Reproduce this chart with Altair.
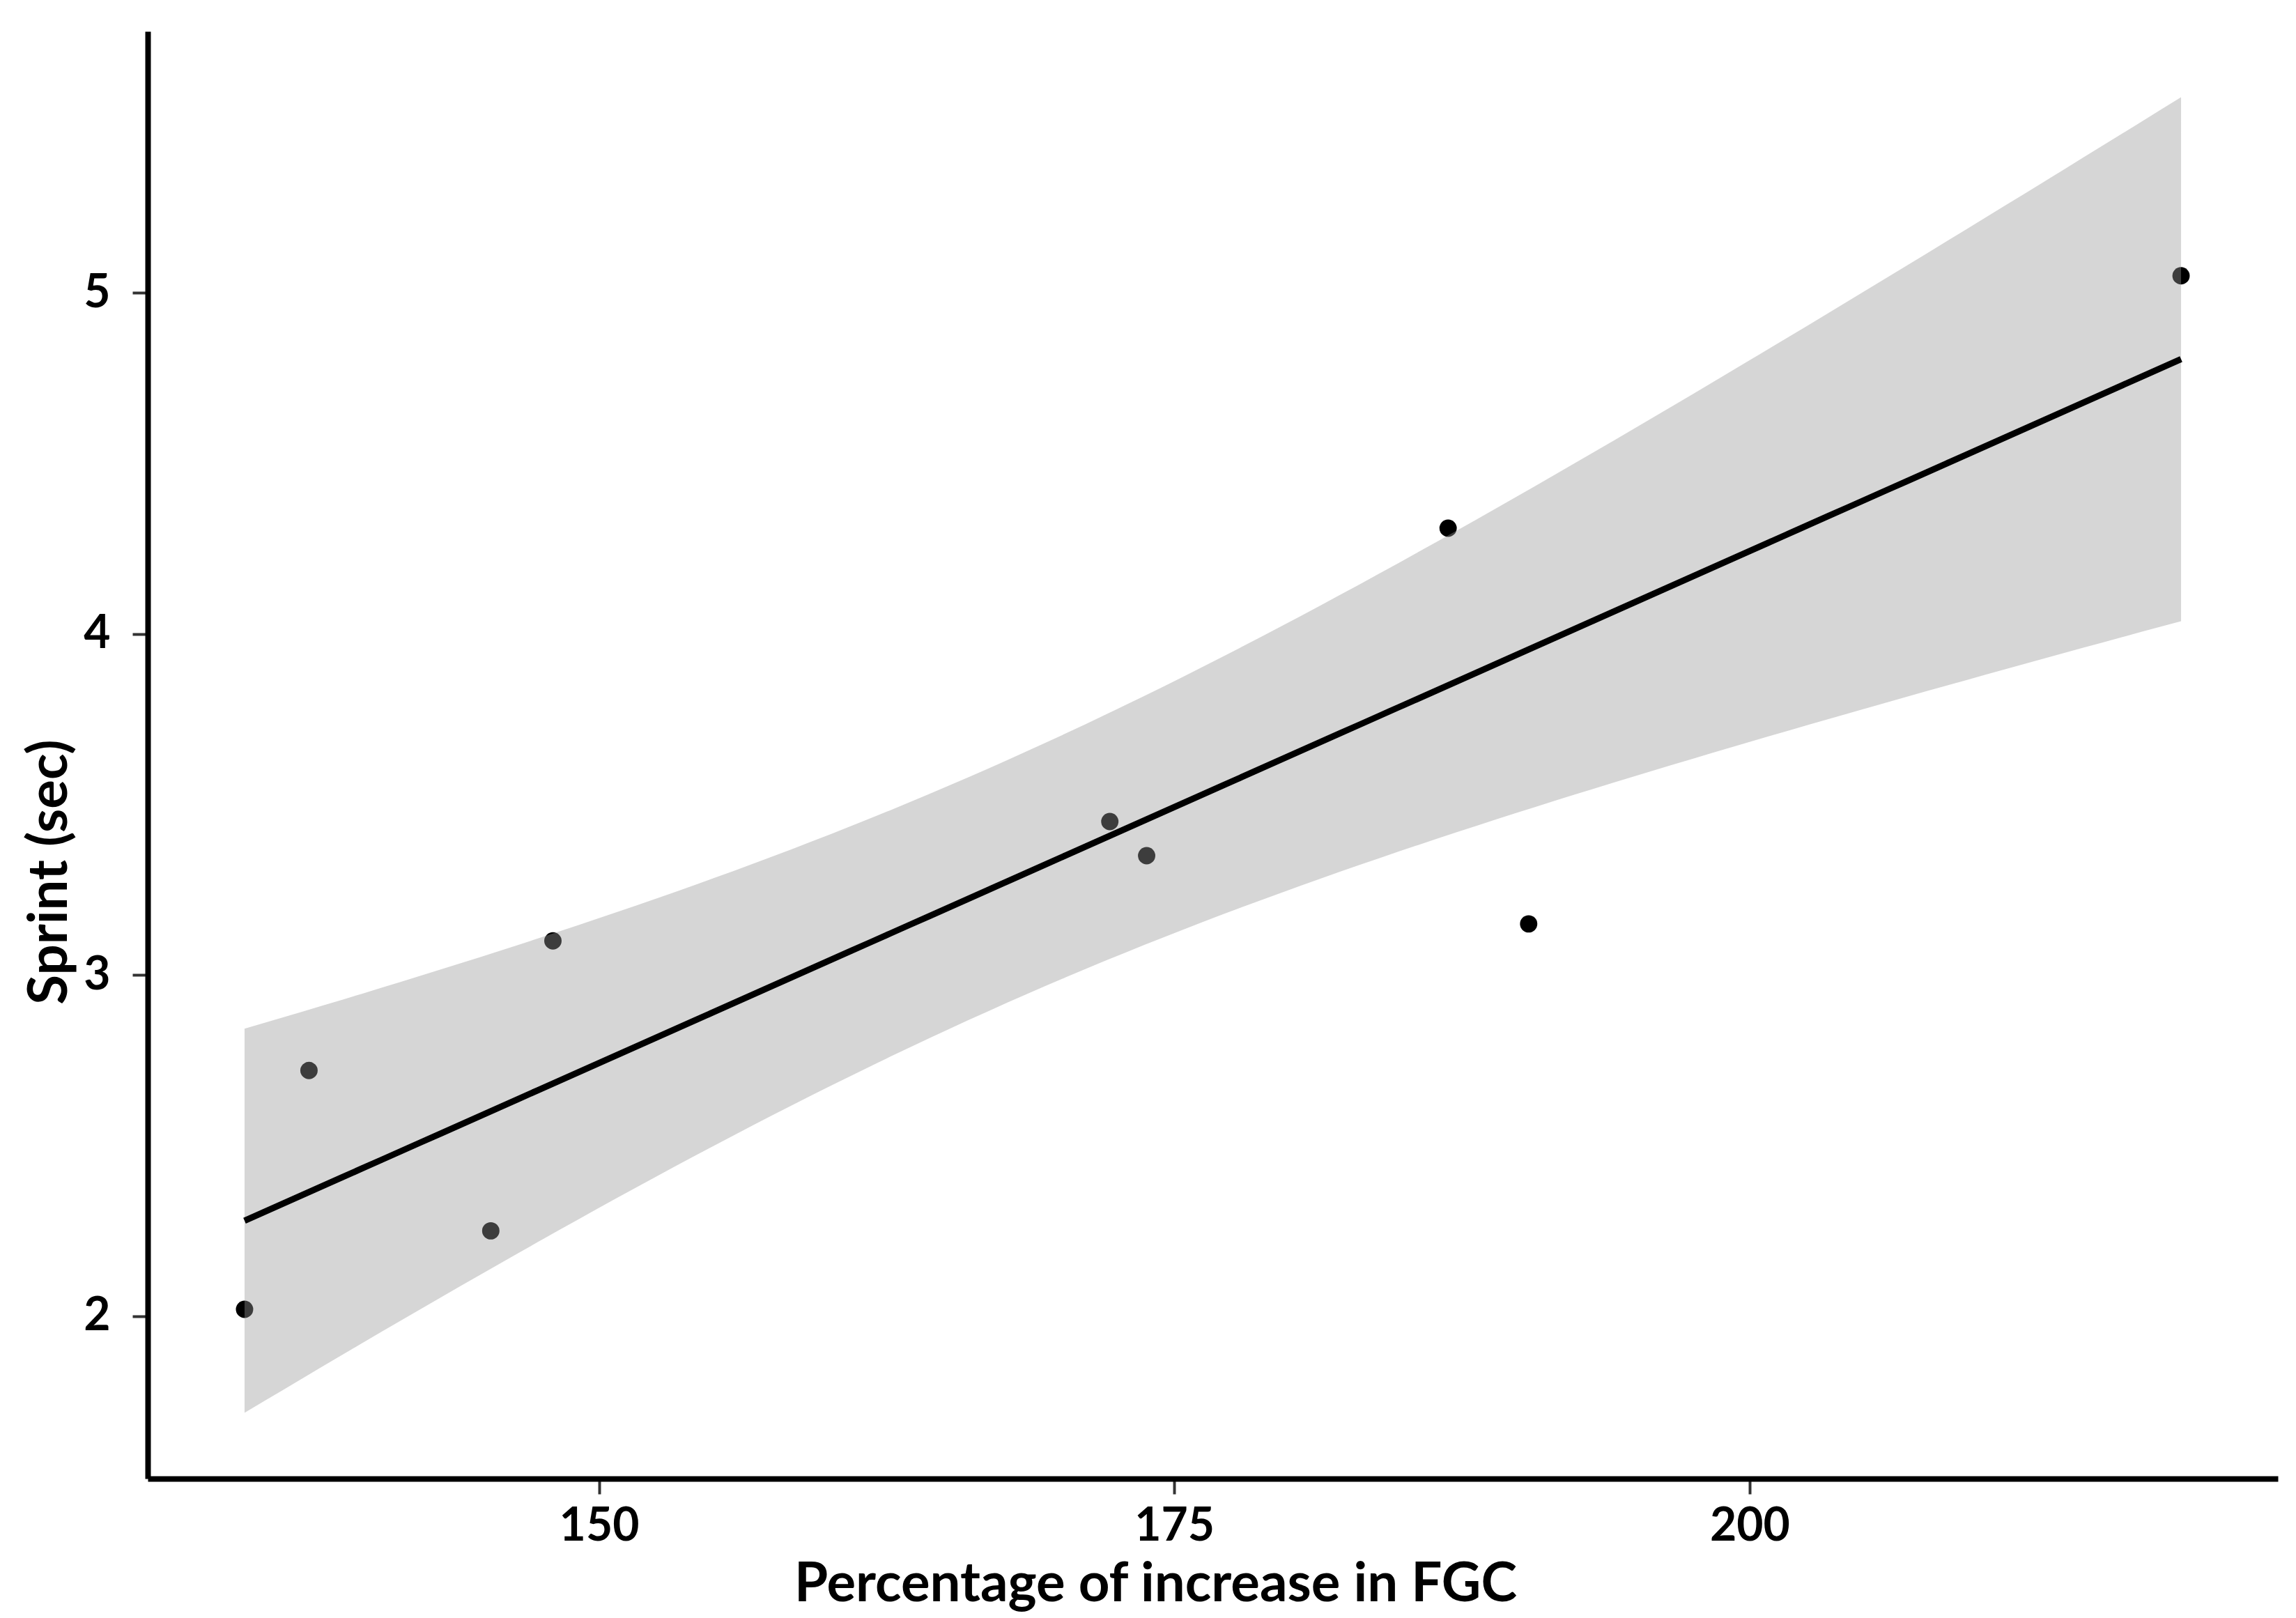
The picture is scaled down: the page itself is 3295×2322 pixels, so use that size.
import altair as alt
import numpy as np
import pandas as pd

# Data
fgc = [134.6, 137.4, 145.3, 148.0, 172.2, 173.8, 186.9, 190.4, 218.75]
sprint = [2.02, 2.72, 2.25, 3.10, 3.45, 3.35, 4.31, 3.15, 5.05]
x_ticks = [150, 175, 200]
y_ticks = [2, 3, 4, 5]
x_title = "Percentage of increase in FGC"
y_title = "Sprint (sec)"

# Linear fit with 95% confidence band (like geom_smooth(method="lm"))
x = np.array(fgc, dtype=float)
y = np.array(sprint, dtype=float)
n = len(x)
slope, intercept = np.polyfit(x, y, 1)
resid = y - (slope * x + intercept)
s = np.sqrt((resid ** 2).sum() / (n - 2))
t_crit = 2.364624  # Student t, 0.975 quantile, df = 7
grid = np.linspace(x.min(), x.max(), 100)
fit = intercept + slope * grid
se = s * np.sqrt(1.0 / n + (grid - x.mean()) ** 2 / ((x - x.mean()) ** 2).sum())
lower = fit - t_crit * se
upper = fit + t_crit * se

pts = pd.DataFrame({"x": x, "y": y})
band = pd.DataFrame({"x": grid, "fit": fit, "lower": lower, "upper": upper})

# ggplot-style 5% expansion
xr = x.max() - x.min()
xdom = [x.min() - 0.05 * xr, x.max() + 0.05 * xr]
ylo = min(lower.min(), y.min())
yhi = max(upper.max(), y.max())
yr = yhi - ylo
ydom = [ylo - 0.05 * yr, yhi + 0.05 * yr]

xscale = alt.Scale(domain=xdom, nice=False, zero=False)
yscale = alt.Scale(domain=ydom, nice=False, zero=False)
xaxis = alt.Axis(values=x_ticks, title=x_title, labelPadding=14, titlePadding=12,
                 titleX=1446)
yaxis = alt.Axis(values=y_ticks, title=y_title, labelPadding=32, titlePadding=8,
                 titleY=1206)

points = alt.Chart(pts).mark_circle(size=620, color="black", opacity=1).encode(
    x=alt.X("x:Q", scale=xscale, axis=xaxis),
    y=alt.Y("y:Q", scale=yscale, axis=yaxis),
)

ribbon = alt.Chart(band).mark_area(color="#999999", opacity=0.4).encode(
    x=alt.X("x:Q", scale=xscale, axis=xaxis),
    y=alt.Y("lower:Q", scale=yscale, axis=yaxis),
    y2="upper:Q",
)

line = alt.Chart(band).mark_line(color="black", strokeWidth=9).encode(
    x=alt.X("x:Q", scale=xscale, axis=xaxis),
    y=alt.Y("fit:Q", scale=yscale, axis=yaxis),
)

chart = (
    alt.layer(points, ribbon, line)
    .properties(
        width=3057,
        height=2077,
        padding={"left": 204, "top": 37, "right": 10, "bottom": 198},
        autosize=alt.AutoSizeParams(type="none"),
        background="white",
    )
    .configure_view(stroke=None)
    .configure_axis(
        grid=False,
        domainColor="black",
        domainWidth=8,
        tickColor="#333333",
        tickWidth=4,
        tickSize=22,
        labelFont="Lato",
        labelFontWeight="bold",
        labelFontSize=66,
        labelColor="black",
        titleFont="Lato",
        titleFontWeight="bold",
        titleFontSize=78,
        titleColor="black",
    )
)

chart.save("out.html", embed_options={"renderer": "svg", "actions": False})
